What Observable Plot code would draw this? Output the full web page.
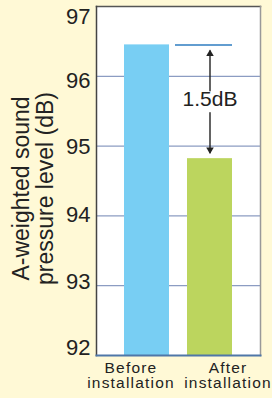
<!DOCTYPE html>
<html>
<head>
<meta charset="utf-8">
<script src="https://cdn.jsdelivr.net/npm/d3@7"></script>
<script src="https://cdn.jsdelivr.net/npm/@observablehq/plot@0.6"></script>
<style>
  html, body { margin: 0; padding: 0; background: #FFF9D6; }
  #chart svg { display: block; background: #FFF9D6; }
</style>
</head>
<body>
<div id="chart"></div>
<script>
const categories = ["Before installation", "After installation"];
const levels = [96.45, 94.82];
const yTicks = [92, 93, 94, 95, 96, 97];
const diffLabel = "1.5dB";
const yTitle = "A-weighted sound\npressure level (dB)";
const yMin = 92, yMax = 97;

const barColors = ["#78CEF3", "#BCD55E"];
const bars = categories.map((c, i) => ({cat: c, value: levels[i], color: barColors[i]}));
const mid = (levels[0] + levels[1]) / 2;

const labelOffsets = [-8, -3.5, -0.7, 0.8, 5, 10];
const font = "Liberation Sans, Arial, Helvetica, sans-serif";

const xLabelStyle = {tickSize: 0, tickPadding: 6, fontSize: 15.5, label: null, tickFormat: d => d.replace(" ", "\n"), lineHeight: 1.0};

const chart = Plot.plot({
  width: 272,
  height: 398,
  marginLeft: 96,
  marginRight: 12,
  marginTop: 6,
  marginBottom: 43,
  style: {background: "#FFF9D6", fontFamily: font, color: "#222", overflow: "visible"},
  x: {type: "band", domain: categories, paddingInner: 0.2857, paddingOuter: 0.444, axis: null},
  y: {domain: [yMin, yMax], axis: null},
  marks: [
    Plot.frame({fill: "white", stroke: null}),
    Plot.ruleY([93, 94, 95, 96], {stroke: "#8C9CC2", strokeWidth: 1.2}),
    Plot.barY(bars, {x: "cat", y1: yMin, y2: "value", fill: "color"}),
    Plot.tickY([bars[0]], {x: () => categories[1], y: "value", stroke: "#2E7CC0", strokeWidth: 1.5, insetLeft: -12}),
    Plot.arrow([{a: mid, b: levels[0]}, {a: mid, b: levels[1]}], {
      x1: () => categories[1], x2: () => categories[1], y1: "a", y2: "b",
      headLength: 0, insetStart: 11, insetEnd: 6, stroke: "#222", strokeWidth: 1.4
    }),
    Plot.dot([levels[0]], {x: () => categories[1], y: d => d, symbol: "triangle2", r: 3.6, fill: "#222", dy: 9}),
    Plot.dot([levels[1]], {x: () => categories[1], y: d => d, symbol: "triangle2", r: 3.6, fill: "#222", dy: -9, rotate: 180}),
    Plot.text([diffLabel], {x: () => categories[1], y: () => mid, text: d => d, fontSize: 21, fill: "#222", dy: -3}),
    Plot.frame({anchor: "top", stroke: "#555", strokeWidth: 1.5}),
    Plot.frame({anchor: "left", stroke: "#444", strokeWidth: 1.5}),
    Plot.frame({anchor: "right", stroke: "#999", strokeWidth: 1.5}),
    Plot.frame({anchor: "bottom", stroke: "#4F77A8", strokeWidth: 2}),
    ...yTicks.map((t, i) => Plot.axisY({ticks: [t], tickSize: 0, tickPadding: 6, fontSize: 22, dy: labelOffsets[i], label: null, tickFormat: d => String(d)})),
    Plot.axisX({...xLabelStyle, ticks: [categories[0]], dx: -16}),
    Plot.axisX({...xLabelStyle, ticks: [categories[1]], dx: 18}),
    Plot.text([yTitle], {frameAnchor: "left", textAnchor: "middle", text: d => d, rotate: -90, fontSize: 23, dx: -63, dy: 7.5, fill: "#222", lineHeight: 1.04})
  ]
});
document.getElementById("chart").appendChild(chart);
chart.querySelectorAll("g[aria-label='x-axis tick label'] text").forEach(t => t.setAttribute("letter-spacing", "1.2"));
</script>
</body>
</html>
